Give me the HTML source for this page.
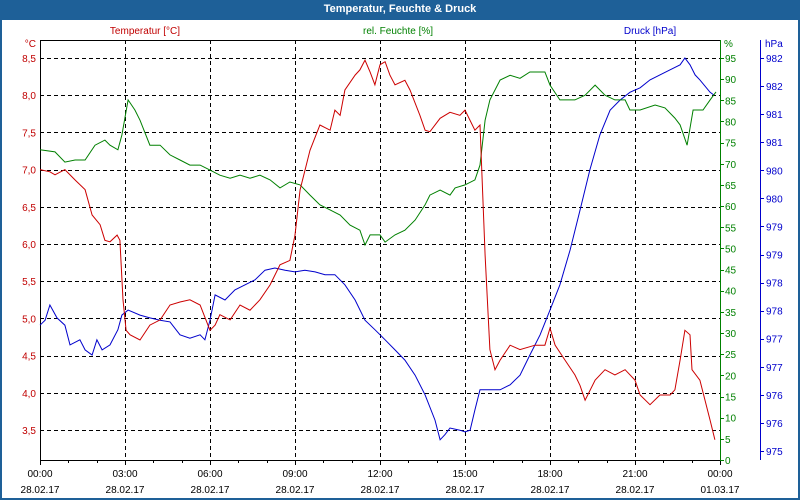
<!DOCTYPE html>
<html><head><meta charset="utf-8"><style>
body{margin:0;width:800px;height:500px;overflow:hidden;background:#fff;font-family:"Liberation Sans",sans-serif}
#win{position:absolute;left:0;top:0;width:796px;height:478px;border:2px solid #1e6098;border-top:20px solid #1e6098}
#title{position:absolute;left:0;top:0;width:800px;height:20px;line-height:19px;text-align:center;color:#fff;font-weight:bold;font-size:11px}
svg{position:absolute;left:0;top:0}
</style></head><body>
<div id="win"></div>
<div id="title">Temperatur, Feuchte &amp; Druck</div>
<svg id="c" width="800" height="500" font-family="Liberation Sans, sans-serif" font-size="10"></svg>
<script>
const tempHours=[0,0.35,0.53,0.88,1.24,1.59,1.84,2.12,2.29,2.47,2.72,2.82,2.93,3.04,3.18,3.53,3.88,4.24,4.59,4.94,5.29,5.65,6.0,6.18,6.35,6.71,7.06,7.41,7.76,8.12,8.47,8.82,9.0,9.18,9.53,9.88,10.24,10.41,10.59,10.76,11.12,11.29,11.47,11.65,11.82,12.0,12.18,12.35,12.53,12.88,13.06,13.41,13.59,13.76,14.12,14.47,14.82,15.0,15.35,15.53,15.71,15.88,16.06,16.24,16.59,16.94,17.47,17.82,18.0,18.18,18.53,18.88,19.06,19.24,19.59,19.94,20.29,20.65,21.0,21.18,21.53,21.88,22.24,22.41,22.59,22.76,22.94,23.01,23.29,23.65,23.82];
const tempValues=[7.0,6.97,6.93,7.0,6.86,6.73,6.39,6.26,6.05,6.03,6.12,6.05,5.25,4.84,4.78,4.71,4.91,4.98,5.18,5.22,5.25,5.18,4.84,4.91,5.05,4.98,5.18,5.11,5.25,5.45,5.72,5.78,6.12,6.73,7.26,7.6,7.53,7.8,7.73,8.07,8.27,8.34,8.47,8.31,8.14,8.41,8.45,8.27,8.14,8.2,8.07,7.73,7.53,7.51,7.69,7.77,7.73,7.8,7.53,7.6,5.85,4.58,4.31,4.44,4.64,4.58,4.64,4.64,4.87,4.64,4.44,4.24,4.1,3.9,4.17,4.31,4.24,4.31,4.17,3.97,3.84,3.97,3.97,4.04,4.44,4.84,4.78,4.31,4.17,3.63,3.37];
const humHours=[0,0.53,0.88,1.24,1.59,1.94,2.29,2.47,2.75,2.89,3.11,3.35,3.53,3.88,4.24,4.59,4.94,5.29,5.65,6.0,6.35,6.71,7.06,7.41,7.76,8.12,8.47,8.82,9.18,9.53,9.88,10.24,10.59,10.94,11.29,11.47,11.65,11.82,12.0,12.18,12.53,12.88,13.24,13.59,13.76,14.12,14.47,14.65,15.0,15.35,15.53,15.71,15.88,16.24,16.59,16.94,17.29,17.82,18.0,18.35,18.88,19.24,19.59,19.94,20.29,20.65,20.82,21.18,21.71,22.06,22.41,22.59,22.84,23.05,23.4,23.65,23.86];
const humValues=[73.3,72.8,70.4,70.9,70.9,74.4,75.6,74.4,73.3,76.8,85.1,82.7,80.3,74.4,74.4,72.1,70.9,69.7,69.7,68.5,67.3,66.6,67.3,66.6,67.3,66.2,64.3,65.7,65.0,62.6,60.3,59.1,57.9,55.5,54.3,50.8,53.2,53.2,53.2,51.5,53.2,54.3,56.7,60.3,62.6,63.8,62.6,64.3,65.0,66.2,69.7,80.3,85.1,89.8,90.9,90.2,91.7,91.7,88.6,85.1,85.1,86.2,88.6,86.2,85.1,85.1,82.7,82.7,83.9,83.2,80.8,79.2,74.4,82.7,82.7,85.1,87.0];
const presHours=[0,0.18,0.35,0.6,0.88,1.06,1.41,1.59,1.84,2.01,2.19,2.47,2.75,2.89,3.11,3.53,3.88,4.24,4.59,4.94,5.29,5.65,5.82,6.0,6.18,6.53,6.88,7.24,7.59,7.94,8.29,8.65,9.0,9.35,9.71,10.06,10.41,10.76,11.12,11.47,11.82,12.18,12.53,12.88,13.24,13.59,13.94,14.12,14.29,14.47,14.82,15.0,15.18,15.35,15.53,15.88,16.24,16.59,16.94,17.29,17.65,18.0,18.35,18.71,19.06,19.41,19.76,20.12,20.47,20.82,21.18,21.53,21.88,22.24,22.59,22.76,22.94,23.12,23.29,23.65,23.79];
const presValues=[977.24,977.33,977.6,977.37,977.24,976.89,976.98,976.8,976.71,976.98,976.8,976.89,977.16,977.42,977.51,977.42,977.37,977.33,977.3,977.07,977.01,977.07,976.98,977.33,977.78,977.69,977.87,977.96,978.05,978.22,978.26,978.22,978.19,978.22,978.19,978.14,978.14,977.96,977.69,977.33,977.16,976.98,976.8,976.62,976.35,976.0,975.55,975.2,975.29,975.41,975.37,975.34,975.37,975.73,976.09,976.09,976.09,976.18,976.35,976.71,977.07,977.51,977.96,978.58,979.29,980.01,980.63,981.07,981.25,981.39,981.47,981.61,981.7,981.79,981.88,982.0,981.88,981.7,981.61,981.39,981.34];
const tempTicks=[3.5,4.0,4.5,5.0,5.5,6.0,6.5,7.0,7.5,8.0,8.5];
const humTicks=[0,5,10,15,20,25,30,35,40,45,50,55,60,65,70,75,80,85,90,95];
const presTicks=[975,975.5,976,976.5,977,977.5,978,978.5,979,979.5,980,980.5,981,981.5,982];
const timeTicks=[0,3,6,9,12,15,18,21,24];
const timeLabels=["00:00","03:00","06:00","09:00","12:00","15:00","18:00","21:00","00:00"];
const dateLabels=["28.02.17","28.02.17","28.02.17","28.02.17","28.02.17","28.02.17","28.02.17","28.02.17","01.03.17"];

const X0=40,X1=720,YT=40,YB=460;
const xs=h=>X0+h*(X1-X0)/24;
const yT=t=>58+(8.5-t)*74.4;
const yH=v=>460-v*402/95;
const yP=p=>451-(p-975)*56.14;
const svg=document.getElementById('c');
const NS='http://www.w3.org/2000/svg';
function mk(tag,attrs,parent){const e=document.createElementNS(NS,tag);for(const k in attrs)e.setAttribute(k,attrs[k]);(parent||svg).appendChild(e);return e;}
function txt(x,y,s,fill,anchor){const e=mk('text',{x:x,y:y,fill:fill,'text-anchor':anchor||'start'});e.textContent=s;return e;}

// grid
const grid=mk('g',{stroke:'#000','stroke-dasharray':'4,3','stroke-width':1});


timeTicks.forEach(h=>{if(h>0&&h<24){const l=mk('line',{x1:xs(h)+0.5,x2:xs(h)+0.5,y1:YT,y2:YB},grid);

}});
tempTicks.forEach(t=>{const l=mk('line',{x1:X0,x2:X1,y1:Math.round(yT(t))+0.5,y2:Math.round(yT(t))+0.5},grid);

});

// axes
const ax=mk('g',{'stroke-width':1});


mk('line',{x1:X0+0.5,x2:X0+0.5,y1:YT,y2:YB,stroke:'#000'},ax);
mk('line',{x1:X0,x2:X1,y1:YB+0.5,y2:YB+0.5,stroke:'#000'},ax);
mk('line',{x1:X0,x2:X1,y1:YT+0.5,y2:YT+0.5,stroke:'#000'},ax);
mk('line',{x1:X1+0.5,x2:X1+0.5,y1:YT,y2:YB,stroke:'#008000'},ax);
mk('line',{x1:760.5,x2:760.5,y1:YT,y2:YB,stroke:'#0000cc'},ax);
for(let h=0;h<=24;h++){mk('line',{x1:Math.round(xs(h))+0.5,x2:Math.round(xs(h))+0.5,y1:YB,y2:YB+(h%3==0?5:3),stroke:'#000'},ax);}

// labels
txt(36,47,'°C','#c00000','end');
tempTicks.forEach(t=>{const e=txt(36,yT(t)+4,t.toFixed(1).replace('.',','),'#c00000','end');

});
txt(724,47,'%','#008000');
humTicks.forEach(v=>{mk('line',{x1:X1,x2:X1+4,y1:Math.round(yH(v))+0.5,y2:Math.round(yH(v))+0.5,stroke:'#008000'});
const e=txt(725,yH(v)+4,String(v),'#008000');

});
txt(765,47,'hPa','#0000cc');
presTicks.forEach(p=>{mk('line',{x1:760,x2:764,y1:Math.round(yP(p))+0.5,y2:Math.round(yP(p))+0.5,stroke:'#0000cc'});
const e=txt(766,yP(p)+4,String(Math.round(p+0.001)),'#0000cc');

});
timeTicks.forEach((h,i)=>{const e=txt(xs(h),477,timeLabels[i],'#000','middle');


const d=txt(xs(h),493,dateLabels[i],'#000','middle');

});
const l1=txt(145,34,'Temperatur [°C]','#c00000','middle');


const l2=txt(398,34,'rel. Feuchte [%]','#008000','middle');


const l3=txt(650,34,'Druck [hPa]','#0000cc','middle');



// series
function line(hs,vs,yf,color,name){const pts=hs.map((h,i)=>xs(h).toFixed(1)+','+yf(vs[i]).toFixed(1)).join(' ');
const p=mk('polyline',{points:pts,fill:'none',stroke:color,'stroke-width':1});

}
line(presHours,presValues,yP,'#0000cc','pressure-line');
line(humHours,humValues,yH,'#008000','humidity-line');
line(tempHours,tempValues,yT,'#cc0000','temperature-line');
</script>
</body></html>
